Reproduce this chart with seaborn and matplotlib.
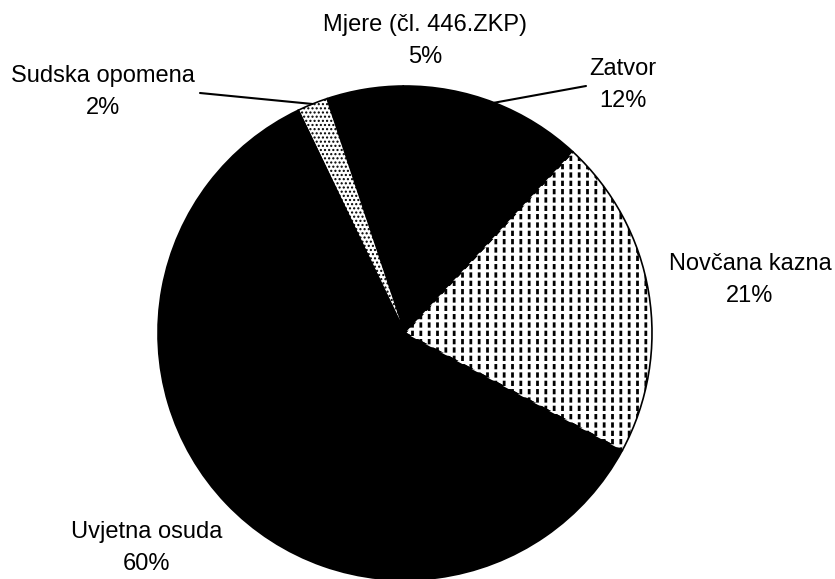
import numpy as np
import matplotlib
matplotlib.use("Agg")
import matplotlib.pyplot as plt
import seaborn as sns

# Struktura izrečenih sankcija
labels = ["Novčana kazna", "Zatvor", "Mjere (čl. 446.ZKP)", "Sudska opomena", "Uvjetna osuda"]
shares = [21, 12, 5, 2, 60]
face = ["white", "black", "black", "white", "black"]
hatch = ["||", None, None, "....", None]

sns.set_theme(style="white")
plt.rcParams["font.family"] = ["Liberation Sans", "DejaVu Sans"]
plt.rcParams["hatch.linewidth"] = 2.0

W, H = 835, 579
fig = plt.figure(figsize=(W / 100, H / 100), dpi=100)
ax = fig.add_axes([0, 0, 1, 1])

cx, cy, r = 405, H - 333, 247
wedges, _ = ax.pie(shares, colors=face, startangle=-28.4, counterclock=True,
                   center=(cx, cy), radius=r,
                   wedgeprops=dict(edgecolor="black", linewidth=1.2))
for w, h in zip(wedges, hatch):
    if h:
        w.set_hatch(h)
        if h.startswith(".") and hasattr(w, "set_hatch_linewidth"):
            w.set_hatch_linewidth(1.0)

# break the vertical lines of the Novčana pattern into dashes
over, _ = ax.pie(shares, colors=["none"] * len(shares), startangle=-28.4,
                 counterclock=True, center=(cx, cy), radius=r * 0.993,
                 wedgeprops=dict(edgecolor="white", linewidth=0))
for i, w in enumerate(over):
    if i == 0:
        w.set_hatch("--")
        if hasattr(w, "set_hatch_linewidth"):
            w.set_hatch_linewidth(2.2)
    else:
        w.set_visible(False)

ax.set_xlim(0, W)
ax.set_ylim(0, H)
ax.set_aspect("equal")
ax.axis("off")

fs = 17
txt = dict(ha="center", va="center", fontsize=fs, linespacing=1.6, color="black")
pos = {
    "Novčana kazna": (750, H - 280),
    "Zatvor": (623, H - 85),
    "Mjere (čl. 446.ZKP)": (425, H - 41),
    "Sudska opomena": (103, H - 92),
    "Uvjetna osuda": (147, H - 548),
}
for lab, v in zip(labels, shares):
    x, y = pos[lab]
    ax.text(x, y, f"{lab}\n{v}%", **txt)


def edge_point(w, frac=1.0):
    mid = np.deg2rad((w.theta1 + w.theta2) / 2)
    return cx + r * frac * np.cos(mid), cy + r * frac * np.sin(mid)


# leader lines
ex, ey = edge_point(wedges[1], 1.0)
ax.plot([586, ex], [H - 86, ey], color="black", lw=1.5)
ex, ey = edge_point(wedges[3], 1.0)
ax.plot([200, ex], [H - 93, ey], color="black", lw=1.5)

fig.savefig("out.png", dpi=100)
